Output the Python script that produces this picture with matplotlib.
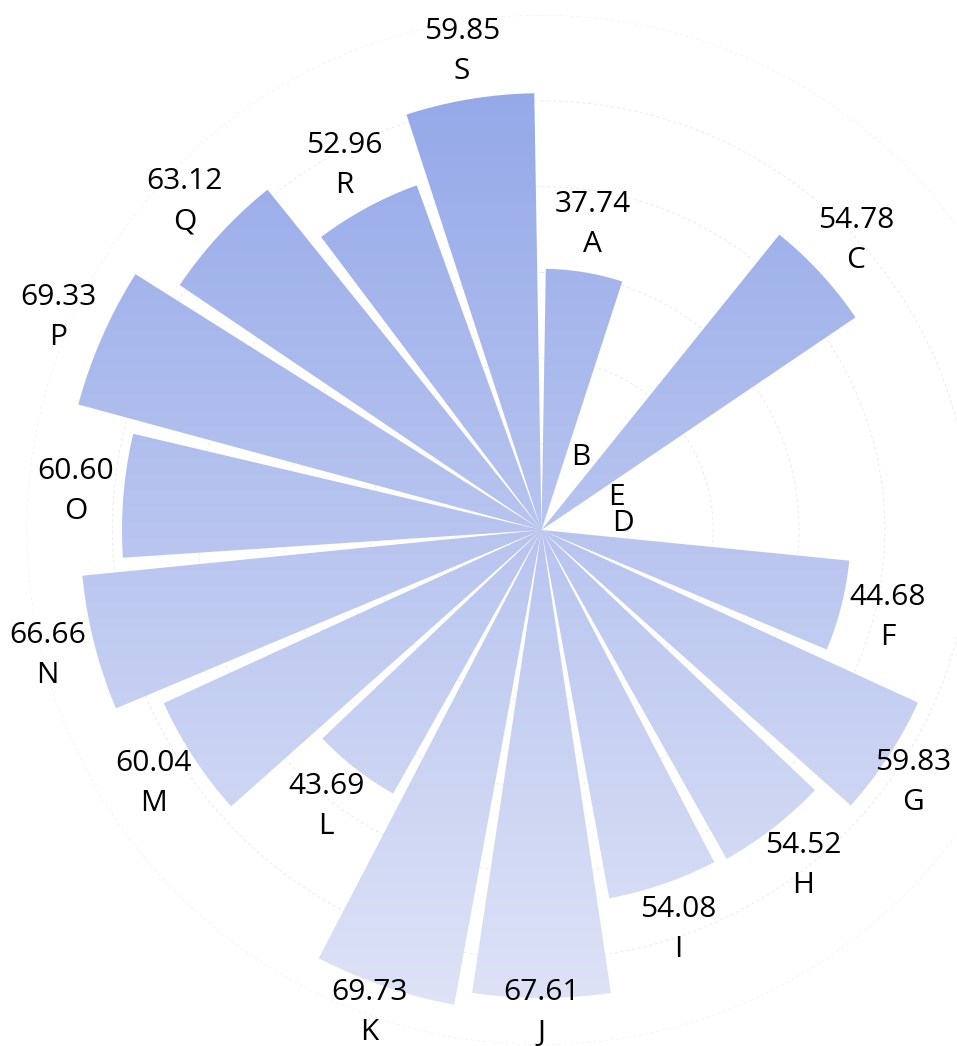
import numpy as np
import matplotlib
matplotlib.use('Agg')
import matplotlib.pyplot as plt
from matplotlib.colors import LinearSegmentedColormap
from matplotlib.path import Path
from matplotlib.patches import PathPatch

# ---- data ----
categories = ['A', 'B', 'C', 'E', 'D', 'F', 'G', 'H', 'I', 'J',
              'K', 'L', 'M', 'N', 'O', 'P', 'Q', 'R', 'S']
label_values = [37.74, 0, 54.78, 0, 0, 44.68, 59.83, 54.52, 54.08, 67.61,
                69.73, 43.69, 60.04, 66.66, 60.60, 69.33, 63.12, 52.96, 59.85]
bar_lengths = [37.74, 0, 54.78, 0, 0, 44.68, 59.83, 54.52, 54.08, 67.61,
               69.73, 43.69, 60.04, 66.66, 60.60, 69.33, 63.12, 52.96, 63.10]

# ---- layout ----
W, H, DPI = 957, 1046, 100
cx, cy, R = 541.5, 530.0, 515.0   # centre and radius of polar area (pixels)
rmax = 74.4

plt.rcParams['font.family'] = ['Open Sans', 'DejaVu Sans']

fig = plt.figure(figsize=(W / DPI, H / DPI), dpi=DPI)
ax = fig.add_axes([(cx - R) / W, (H - cy - R) / H, 2 * R / W, 2 * R / H],
                  projection='polar')
ax.set_theta_zero_location('N')
ax.set_theta_direction(-1)
ax.set_ylim(0, rmax)
ax.set_facecolor('none')

n = len(categories)
slot = 2 * np.pi / n
theta = np.arange(n) * slot + slot / 2
width = slot * 0.9
bars = ax.bar(theta, bar_lengths, width=width, color='none', linewidth=0)

ax.set_yticks(np.linspace(0, rmax, 7)[1:])
ax.set_yticklabels([])
ax.set_xticks([])
ax.spines['polar'].set_visible(False)
ax.yaxis.grid(True, color='#ebebeb', linestyle=(0, (3, 3)), linewidth=0.7)
ax.xaxis.grid(False)

# ---- gradient fill clipped to the union of the bar shapes ----
ov = fig.add_axes([0, 0, 1, 1])
ov.axis('off')
verts, codes = [], []
for t, v in zip(theta, bar_lengths):
    if v <= 0:
        continue
    ts = np.linspace(t - width / 2, t + width / 2, 80)
    pts = [(t, 0.0)] + [(a, v) for a in ts]
    disp = ax.transData.transform(pts)
    poly = [(px, H - py) for px, py in disp]
    verts += poly + [poly[0]]
    codes += [Path.MOVETO] + [Path.LINETO] * (len(poly) - 1) + [Path.CLOSEPOLY]
clip = PathPatch(Path(verts, codes), transform=ov.transData,
                 facecolor='none', edgecolor='none')
ov.add_patch(clip)
cmap = LinearSegmentedColormap.from_list('g', ['#8fa4e8', '#e1e5f7'])
grad = np.linspace(0, 1, 256).reshape(-1, 1)
im = ov.imshow(grad, cmap=cmap, extent=[0, W, cy + R, cy - R],
               aspect='auto', interpolation='bilinear')
im.set_clip_path(clip)
ov.set_xlim(0, W)
ov.set_ylim(H, 0)

# ---- labels ----
off_px = 48.0
zero_px = 82.0
unit = rmax / R
fs = 21.5
for t, v, lv, cat in zip(theta, bar_lengths, label_values, categories):
    if v > 0:
        x, y = ax.transData.transform((t, v + off_px * unit))
        y = max(y, 33.0)
        x = min(max(x, 46.0), W - 44.0)
        fig.text(x / W, (y + 20) / H, f"{lv:.2f}", ha='center', va='center',
                 fontsize=fs, color='black')
        fig.text(x / W, (y - 20) / H, cat, ha='center', va='center',
                 fontsize=fs, color='black')
    else:
        x, y = ax.transData.transform((t, zero_px * unit))
        fig.text(x / W, y / H, cat, ha='center', va='center',
                 fontsize=fs, color='black')

fig.savefig('out.png', dpi=DPI)
